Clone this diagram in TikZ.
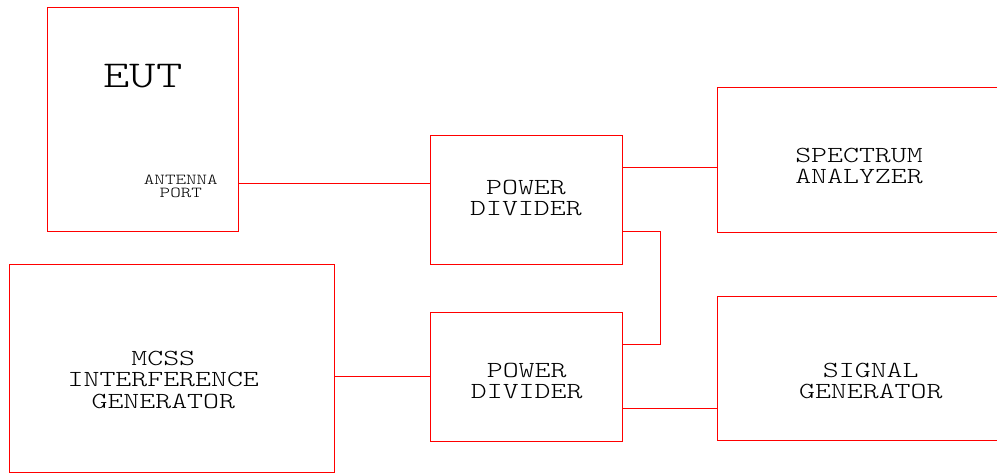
\documentclass[tikz,border=0pt]{standalone}
\usepackage{fontspec}
\newfontfamily\boxfont[FakeStretch=1.32]{lmmonolt10-regular.otf}
\usepackage{tikz}
\usetikzlibrary{positioning}

\begin{document}
\begin{tikzpicture}[x=1pt, y=-1pt,
    box/.style={draw=red, line width=0.8pt, inner sep=0pt},
    wire/.style={draw=red, line width=0.8pt},
    lbl/.style={anchor=base, align=center, inner sep=0pt, font=\boxfont\fontsize{23}{21.4}\selectfont}]
    \clip (0,0) rectangle (997,473);

    % Equipment under test
    \node[box, minimum width=191, minimum height=224] (eut) at (142.5,119) {};
    \node[lbl, font=\boxfont\fontsize{38}{40}\selectfont] (eut-txt) at (143,87.3) {EUT};
    \node[lbl, font=\boxfont\fontsize{15.2}{13.4}\selectfont] (port-txt) at (180.8,197.7) {ANTENNA\\PORT};

    % Power dividers
    \node[box, minimum width=192, minimum height=129] (pd1) at (526,199.5) {};
    \node[lbl] (pd1-txt) at (526,215.7) {POWER\\DIVIDER};
    \node[box, minimum width=192, minimum height=128.7] (pd2) at (526,376.7) {};
    \node[lbl] (pd2-txt) at (526.7,399) {POWER\\DIVIDER};

    % Spectrum analyzer and signal generator (cut at the right edge)
    \node[box, minimum width=293, minimum height=145] (sa) at (863.5,159.5) {};
    \node[lbl, font=\boxfont\fontsize{23}{21}\selectfont] (sa-txt) at (859,183.3) {SPECTRUM\\ANALYZER};
    \node[box, minimum width=293, minimum height=144.4] (sg) at (863.5,368.5) {};
    \node[lbl] (sg-txt) at (870.8,399) {SIGNAL\\GENERATOR};

    % Interference generator
    \node[box, minimum width=325, minimum height=207.7] (mcss) at (171.5,368.2) {};
    \node[lbl] (mcss-txt) at (163.3,408.3) {MCSS\\INTERFERENCE\\GENERATOR};

    % Connections
    \draw[wire] (eut.east |- 0,183) -- (pd1.west |- 0,183);
    \draw[wire] (pd1.east |- 0,167) -- (sa.west |- 0,167);
    \draw[wire] (pd1.east |- 0,231.3) -- ++(38,0) |- (pd2.east |- 0,344);
    \draw[wire] (mcss.east |- 0,376.7) -- (pd2.west |- 0,376.7);
    \draw[wire] (pd2.east |- 0,408.3) -- (sg.west |- 0,408.3);
\end{tikzpicture}
\end{document}
